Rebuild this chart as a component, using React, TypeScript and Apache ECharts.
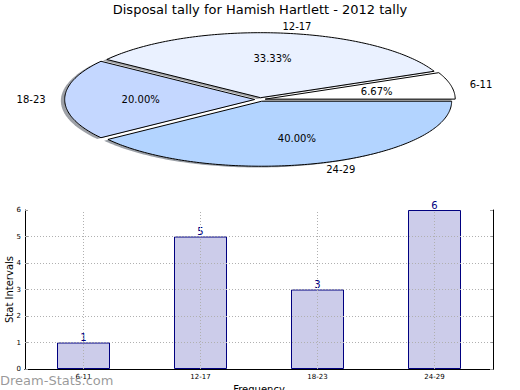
import React, { useEffect, useRef } from "react";
import * as echarts from "echarts";

const chartTitle = "Disposal tally for Hamish Hartlett - 2012 tally";
const categories = ["6-11", "12-17", "18-23", "24-29"];
const tallies = [1, 5, 3, 6];
const sliceColors = ["#ffffff", "#eaf1ff", "#c4d7ff", "#b3d4ff"];
const yTicks = [0, 1, 2, 3, 4, 5, 6];
const xAxisName = "Frequency";
const yAxisName = "Stat Intervals";
const watermark = "Dream-Stats.com";

const FONT = '"DejaVu Sans", "Noto Sans", sans-serif';
const PIE = { cx: 260, cy: 99.5, rx: 190, ry: 65, explode: 0.028, shadow: 0.02 };

function hexToRgb(h: string) {
  const n = parseInt(h.slice(1), 16);
  return [(n >> 16) & 255, (n >> 8) & 255, n & 255];
}

function wedgeGeom(i: number) {
  const total = tallies.reduce((a, b) => a + b, 0);
  let cum = 0;
  for (let k = 0; k < i; k++) cum += tallies[k];
  const t1 = (cum / total) * 360;
  const t2 = ((cum + tallies[i]) / total) * 360;
  const tm = ((t1 + t2) / 2) * Math.PI / 180;
  const cx = PIE.cx + PIE.explode * PIE.rx * Math.cos(tm);
  const cy = PIE.cy - PIE.explode * PIE.ry * Math.sin(tm);
  return { t1, t2, tm, cx, cy, frac: tallies[i] / total };
}

function wedgePoints(cx: number, cy: number, t1: number, t2: number) {
  const pts: number[][] = [[cx, cy]];
  const steps = Math.max(4, Math.ceil(t2 - t1));
  for (let s = 0; s <= steps; s++) {
    const a = ((t1 + ((t2 - t1) * s) / steps) * Math.PI) / 180;
    pts.push([cx + PIE.rx * Math.cos(a), cy - PIE.ry * Math.sin(a)]);
  }
  return pts;
}

function txt(x: number, y: number, text: string, align: string, size = 10, fill = "#000") {
  return {
    type: "text",
    x,
    y,
    style: {
      text,
      fill,
      font: `${size}px ${FONT}`,
      align,
      verticalAlign: "middle",
      textAlign: align,
      textVerticalAlign: "middle",
    },
  };
}

export default function App() {
  const ref = useRef<HTMLDivElement>(null);
  useEffect(() => {
    if (!ref.current) return;
    const chart = echarts.init(ref.current, null, { renderer: "svg" });
    const gridDash = { type: [1, 2] as any, color: "#b0b0b0", width: 1 };
    const option: any = {
      animation: false,
      backgroundColor: "#ffffff",
      title: {
        text: chartTitle,
        left: "center",
        top: 3,
        padding: 0,
        textStyle: { fontFamily: FONT, fontSize: 13, fontWeight: "normal", color: "#000" },
      },
      grid: { left: 25, right: 27, top: 210, bottom: 21, outerBoundsMode: "none", containLabel: false },
      xAxis: [
        {
          type: "category",
          data: categories,
          position: "bottom",
          axisLine: { lineStyle: { color: "#000", width: 1 } },
          axisTick: { alignWithLabel: true, inside: true, length: 3, lineStyle: { color: "#999" } },
          axisLabel: { fontFamily: FONT, fontSize: 7, color: "#000", margin: 4 },
          splitLine: { show: false },
          name: xAxisName,
          nameLocation: "middle",
          nameGap: 15,
          nameMoveOverlap: false,
          nameTextStyle: { fontFamily: FONT, fontSize: 10, color: "#000" },
        },
        {
          type: "category",
          data: categories,
          position: "top",
          axisLine: { lineStyle: { color: "#000", width: 1 } },
          axisTick: { alignWithLabel: true, inside: true, length: 3, lineStyle: { color: "#999" } },
          axisLabel: { show: false },
          splitLine: { show: false },
        },
      ],
      yAxis: [
        {
          type: "value",
          min: 0,
          max: 6,
          interval: 1,
          position: "left",
          axisLine: { show: true, lineStyle: { color: "#000", width: 1 } },
          axisTick: { show: true, inside: true, length: 3, lineStyle: { color: "#999" } },
          axisLabel: { fontFamily: FONT, fontSize: 7, color: "#000", margin: 4 },
          splitLine: { show: false },
          name: yAxisName,
          nameLocation: "middle",
          nameGap: 11,
          nameMoveOverlap: false,
          nameTextStyle: { fontFamily: FONT, fontSize: 10, color: "#000" },
        },
        {
          type: "value",
          min: 0,
          max: 6,
          interval: 1,
          position: "right",
          axisLine: { show: true, lineStyle: { color: "#000", width: 1 } },
          axisTick: { show: true, inside: true, length: 3, lineStyle: { color: "#999" } },
          axisLabel: { show: false },
          splitLine: { show: false },
        },
      ],
      series: [
        {
          type: "custom",
          coordinateSystem: "none",
          z: 1,
          silent: true,
          data: tallies.map((v, i) => [v, i]),
          renderItem: (params: any) => {
            const i = params.dataIndex;
            const g = wedgeGeom(i);
            const ox = -PIE.shadow * PIE.rx;
            const oy = PIE.shadow * PIE.ry;
            const [r, gg, b] = hexToRgb(sliceColors[i]);
            return {
              type: "polygon",
              shape: { points: wedgePoints(g.cx + ox, g.cy + oy, g.t1, g.t2) },
              style: { fill: `rgba(${Math.round(r * 0.3)},${Math.round(gg * 0.3)},${Math.round(b * 0.3)},0.5)` },
            };
          },
        },
        {
          type: "custom",
          coordinateSystem: "none",
          z: 2,
          silent: true,
          data: tallies.map((v, i) => [v, i]),
          renderItem: (params: any) => {
            const i = params.dataIndex;
            const g = wedgeGeom(i);
            const lx = g.cx + 1.1 * PIE.rx * Math.cos(g.tm);
            const ly = g.cy - 1.1 * PIE.ry * Math.sin(g.tm);
            const px = g.cx + 0.6 * PIE.rx * Math.cos(g.tm);
            const py = g.cy - 0.6 * PIE.ry * Math.sin(g.tm);
            return {
              type: "group",
              children: [
                {
                  type: "polygon",
                  shape: { points: wedgePoints(g.cx, g.cy, g.t1, g.t2) },
                  style: { fill: sliceColors[i], stroke: "#000", lineWidth: 1 },
                },
                txt(lx, ly, categories[i], Math.cos(g.tm) > 0 ? "left" : "right"),
                txt(px, py, (g.frac * 100).toFixed(2) + "%", "center"),
              ],
            };
          },
        },
        {
          type: "bar",
          xAxisIndex: 0,
          yAxisIndex: 0,
          data: tallies,
          barWidth: 53,
          itemStyle: { color: "#ccccea", borderColor: "#000080", borderWidth: 1 },
          label: {
            show: true,
            position: "top",
            distance: 0,
            color: "#000080",
            fontFamily: FONT,
            fontSize: 10,
          },
          markLine: {
            silent: true,
            symbol: "none",
            label: { show: false },
            lineStyle: gridDash,
            data: [
              ...categories.map((c) => ({ xAxis: c })),
              ...yTicks.filter((t) => t > 0 && t < 6).map((t) => ({ yAxis: t })),
            ],
          },
        },
      ],
      graphic: [
        {
          type: "text",
          left: 0,
          top: 374,
          z: 100,
          style: {
            text: watermark,
            fill: "rgba(120,120,120,0.75)",
            font: `13px ${FONT}`,
          },
        },
      ],
    };
    chart.setOption(option);
    return () => chart.dispose();
  }, []);
  return (
    <div
      ref={ref}
      style={{ width: 520, height: 390, position: "absolute", left: 0, top: 0, background: "#fff" }}
    />
  );
}
